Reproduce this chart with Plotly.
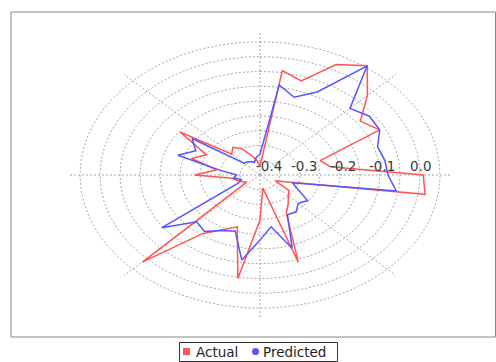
import numpy as np
import plotly.graph_objects as go

# Polar data: angle in degrees (clockwise from north), radius values
angles = [0, 9, 18, 27, 36, 45, 54, 63, 72, 81, 90, 99, 108, 117, 126, 135, 144, 153, 162, 171,
          180, 189, 198, 207, 216, 225, 234, 243, 252, 261, 270, 279, 288, 297, 306, 315, 324, 333, 342, 351]

actual = [-0.370, -0.043, -0.066, 0.019, 0.056, -0.020, -0.090, -0.064, -0.242, -0.222,
          0.008, 0.018, -0.320, -0.358, -0.310, -0.300, -0.280, -0.255, -0.090, -0.355,
          -0.248, -0.046, -0.216, -0.193, -0.155, 0.016, -0.360, -0.350, -0.340, -0.330,
          -0.237, -0.290, -0.220, -0.250, -0.153, -0.300, -0.285, -0.300, -0.330, -0.350]

predicted = [-0.330, -0.092, -0.124, -0.085, 0.056, -0.082, -0.062, -0.064, -0.091, -0.084,
             -0.080, -0.055, -0.315, -0.295, -0.253, -0.265, -0.246, -0.249, -0.139, -0.223,
             -0.180, -0.109, -0.200, -0.190, -0.164, -0.176, -0.097, -0.339, -0.351, -0.333,
             -0.342, -0.300, -0.184, -0.220, -0.190, -0.345, -0.345, -0.350, -0.355, -0.340]

radius_ticks = [-0.4, -0.3, -0.2, -0.1, 0.0]
grid_rings = [-0.35, -0.30, -0.25, -0.20, -0.15, -0.10, -0.05, 0.0, 0.05]
spoke_angles = [0, 45, 90, 135, 180, 225, 270, 315]

R_MIN = -0.4      # value at the centre
SPOKE_END = 0.08  # value where angular gridlines stop

W, H = 496, 362
CX, CY = 260, 175          # centre in pixels
KX, KY = 400.0, 296.0      # pixels per radial unit (horizontal / vertical)

RED = "#FF5555"
BLUE = "#5555FF"
GRID = "#a8a8a8"


def to_xy(theta_deg, value):
    t = np.radians(np.asarray(theta_deg, dtype=float))
    rho = np.asarray(value, dtype=float) - R_MIN
    return rho * np.sin(t), rho * np.cos(t)


fig = go.Figure()

# circular gridlines
ring_t = np.linspace(0, 360, 361)
for r in grid_rings:
    gx, gy = to_xy(ring_t, np.full_like(ring_t, r))
    fig.add_trace(go.Scatter(x=gx, y=gy, mode="lines", hoverinfo="skip", showlegend=False,
                             line=dict(color=GRID, width=1, dash="2px,2px")))

# angular gridlines
for a in spoke_angles:
    sx, sy = to_xy([a, a], [R_MIN, SPOKE_END])
    fig.add_trace(go.Scatter(x=sx, y=sy, mode="lines", hoverinfo="skip", showlegend=False,
                             line=dict(color=GRID, width=1, dash="2px,2px")))

# series (closed polygons)
for name, vals, col in [("Actual", actual, RED), ("Predicted", predicted, BLUE)]:
    px_, py_ = to_xy(angles + angles[:1], vals + vals[:1])
    fig.add_trace(go.Scatter(x=px_, y=py_, mode="lines", name=name, showlegend=False,
                             line=dict(color=col, width=1.5)))

# radius axis tick labels along the 90 degree line
label_shift = {-0.4: 9, -0.3: 4, -0.2: 3, -0.1: 2, 0.0: 0}
annotations = []
for t in radius_ticks:
    tx, ty = to_xy(90, t)
    annotations.append(dict(x=float(tx), y=float(ty), text=f"{t:.1f}", showarrow=False,
                            xanchor="center", yanchor="middle", xshift=label_shift[t], yshift=9,
                            font=dict(family="DejaVu Sans", size=13.5, color="#3a3a3a")))


def px2paper(x, y):
    return x / W, 1 - y / H


shapes = []
# plot border
x0, y0 = px2paper(11, 12)
x1, y1 = px2paper(495.5, 337)
shapes.append(dict(type="rect", xref="paper", yref="paper", x0=x0, y0=y1, x1=x1, y1=y0,
                   line=dict(color="#888888", width=1)))

# legend box
lx0, ly0 = px2paper(179.5, 342.5)
lx1, ly1 = px2paper(337.5, 361.5)
shapes.append(dict(type="rect", xref="paper", yref="paper", x0=lx0, y0=ly1, x1=lx1, y1=ly0,
                   line=dict(color="#333333", width=1), fillcolor="white"))
sx0, sy0 = px2paper(183, 348)
sx1, sy1 = px2paper(190, 355)
shapes.append(dict(type="rect", xref="paper", yref="paper", x0=sx0, y0=sy1, x1=sx1, y1=sy0,
                   line=dict(width=0), fillcolor=RED))
cx0, cy0 = px2paper(252, 348)
cx1, cy1 = px2paper(259, 355)
shapes.append(dict(type="circle", xref="paper", yref="paper", x0=cx0, y0=cy1, x1=cx1, y1=cy0,
                   line=dict(width=0), fillcolor=BLUE))

for label, xpx in [("Actual", 194), ("Predicted", 261)]:
    ax, ay = px2paper(xpx, 352)
    annotations.append(dict(x=ax, y=ay, xref="paper", yref="paper", text=label, showarrow=False,
                            xanchor="left", yanchor="middle",
                            font=dict(family="DejaVu Sans", size=13.5, color="#222222")))

fig.update_layout(
    width=W, height=H,
    margin=dict(l=0, r=0, t=0, b=0),
    paper_bgcolor="white", plot_bgcolor="white",
    xaxis=dict(range=[-CX / KX, (W - CX) / KX], visible=False, fixedrange=True),
    yaxis=dict(range=[-(H - CY) / KY, CY / KY], visible=False, fixedrange=True),
    shapes=shapes,
    annotations=annotations,
    showlegend=False,
)

fig.write_html("out.html")
